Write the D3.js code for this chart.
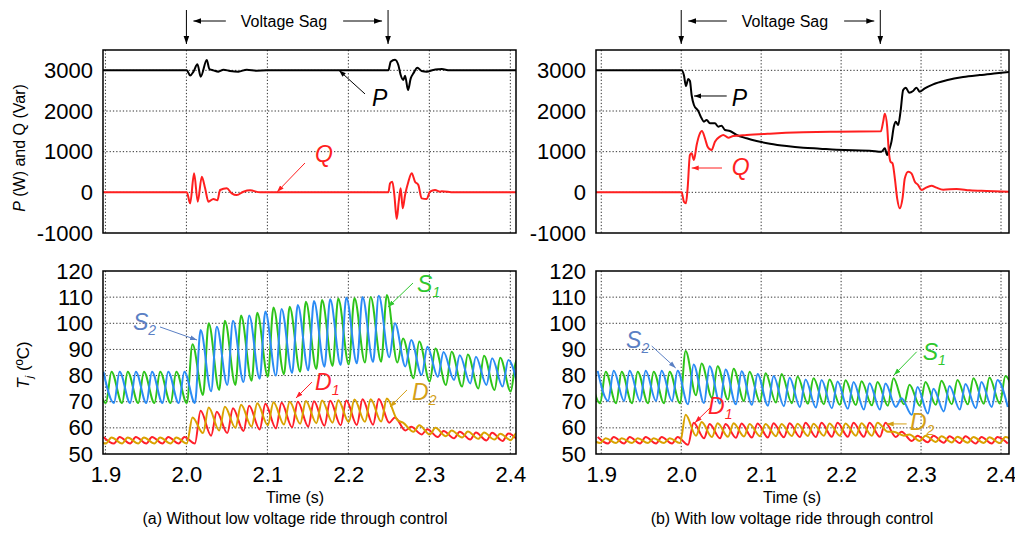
<!DOCTYPE html>
<html>
<head>
<meta charset="utf-8">
<script src="https://cdn.jsdelivr.net/npm/d3@7"></script>
<style>
  body { margin: 0; background: #fff; }
  svg { display: block; font-family: "Liberation Sans", Arial, sans-serif; }
</style>
</head>
<body>
<svg id="chart" width="1015" height="535"></svg>
<script>
// ---- axis ticks ----
const timeTicks = [1.9, 2.0, 2.1, 2.2, 2.3, 2.4];
const powerTicks = [-1000, 0, 1000, 2000, 3000];
const tempTicks = [50, 60, 70, 80, 90, 100, 110, 120];
const sagStart = 2.0;
const sagEnd = 2.249;

// ---- P / Q curves, [time s, value] ----
const leftP = [[1.897,3000],[2.0005,3000],[2.0046,2870],[2.0087,2967],[2.0136,3148],[2.0177,2844],[2.0251,3254],[2.0284,3033],[2.0333,3000],[2.0395,2967],[2.0457,3016],[2.0539,2984],[2.0642,2967],[2.0745,3016],[2.0868,2992],[2.0992,3000],[2.2494,3000],[2.2523,3213],[2.2576,3262],[2.2617,3131],[2.2646,2885],[2.2679,2762],[2.27,2869],[2.2737,2516],[2.277,2803],[2.2803,2926],[2.2852,3066],[2.2905,2984],[2.2967,2967],[2.3049,3008],[2.3111,3025],[2.3153,3033],[2.325,3000],[2.407,3000]];
const leftQ = [[1.897,0],[2.0005,0],[2.0046,-270],[2.0095,467],[2.014,-230],[2.019,385],[2.0231,98],[2.0272,-230],[2.0333,-164],[2.0383,-197],[2.0416,57],[2.0498,98],[2.056,-25],[2.0622,-66],[2.0704,16],[2.0786,49],[2.091,0],[2.2494,0],[2.2515,221],[2.2543,262],[2.2568,-66],[2.2597,-656],[2.2622,-230],[2.2646,98],[2.2671,-393],[2.27,-66],[2.2741,262],[2.2782,467],[2.2823,262],[2.2864,180],[2.2905,-148],[2.2967,-164],[2.3008,16],[2.307,57],[2.3132,16],[2.3153,25],[2.33,0],[2.407,0]];
const rightP = [[1.8934,3000],[2.0005,3000],[2.0034,2877],[2.0059,2615],[2.0088,2787],[2.0109,2738],[2.013,2393],[2.0159,2148],[2.0213,2000],[2.0255,1820],[2.0284,1738],[2.0318,1779],[2.0359,1697],[2.0422,1697],[2.0463,1615],[2.0505,1639],[2.0547,1533],[2.0609,1508],[2.0693,1410],[2.0818,1328],[2.0943,1262],[2.1109,1197],[2.1318,1139],[2.1526,1098],[2.1734,1074],[2.1943,1049],[2.2151,1033],[2.2359,1025],[2.2505,1000],[2.2547,1082],[2.2576,918],[2.2601,1041],[2.263,1246],[2.2659,1615],[2.2684,1738],[2.2713,1656],[2.2743,1984],[2.2776,2516],[2.2809,2574],[2.2851,2451],[2.2901,2492],[2.2943,2574],[2.2984,2475],[2.3047,2557],[2.3151,2656],[2.3318,2754],[2.3526,2836],[2.3734,2885],[2.3943,2926],[2.411,2959]];
const rightQ = [[1.8934,0],[2.0005,0],[2.0034,-230],[2.0059,-270],[2.008,98],[2.0109,918],[2.013,959],[2.0159,795],[2.0193,1164],[2.0226,1410],[2.0259,1508],[2.0297,1328],[2.033,1123],[2.038,1041],[2.0422,1246],[2.0484,1369],[2.0526,1410],[2.0589,1344],[2.0651,1385],[2.0714,1393],[2.0818,1410],[2.1109,1443],[2.1526,1475],[2.1943,1492],[2.2497,1500],[2.2526,1738],[2.2547,1934],[2.2576,1615],[2.2597,1000],[2.2618,754],[2.2643,713],[2.2672,344],[2.2701,-148],[2.2734,-393],[2.2768,-148],[2.2797,344],[2.2839,508],[2.288,467],[2.2922,262],[2.2964,180],[2.3005,57],[2.3047,98],[2.313,164],[2.3193,115],[2.3276,66],[2.3443,82],[2.3609,49],[2.3818,33],[2.411,16]];

// ---- junction temperature ripple: one peak and the following trough per 20 ms cycle ----
const ripplePeriod = 0.02;
const rippleFall = 0.013;
// without LVRT
const leftS2Start = 1.8975;
const leftS2Peaks = [81.5,81.5,81.5,81.5,81.5,81.5,97.4,98.7,101,103,104.5,105.5,107,108.5,109.2,109.9,110.1,110.5,100,93.6,91,89,87.8,87.2,86.6,86];
const leftS2Troughs = [69.5,69.5,69.5,69.5,69.5,69.5,74,76.4,77.5,78.8,80,81,82,83.4,84,84.7,85.2,87,83.5,80.2,79.5,78.3,77,76.4,75.8,74.5];
const leftS1Start = 1.8875;
const leftS1Peaks = [81.5,81.5,81.5,81.5,81.5,81.5,92,100,101,103,104,106,106.3,108.2,108.9,109.5,109.7,110.1,110.8,94.2,93,90.4,89.1,88.1,87.6,86.8,86];
const leftS1Troughs = [69.5,69.5,69.5,69.5,69.5,69.5,72.6,74.5,76.4,78,79.6,80.5,81.5,82.5,83.7,84.3,85,85.3,85,79,77.7,76.4,75.8,75.1,74.5,73.9,73.5];
const leftD1Start = 1.8975;
const leftD1Peaks = [56.5,56.5,56.5,56.5,56.5,56.5,66.5,66.2,67.5,68.5,69.2,69.6,70,70.2,70.4,70.5,70.9,71,64,60.4,59.5,58.8,58.5,58.2,58.1,57.8];
const leftD1Troughs = [54,54,54,54,54,54,57,58,58.8,59.4,59.8,60.2,60.5,60.8,61,61.1,61.2,62,59,57.5,56.5,56,55.5,55.2,55,54.8];
const leftD2Start = 1.8875;
const leftD2Peaks = [56.3,56.3,56.3,56.3,56.3,56.3,64,67.8,68.1,68.8,69.4,69.8,70,70.3,70.5,70.6,70.8,70.9,71.2,62,61,60,59,58.6,58.2,57.7,58];
const leftD2Troughs = [54,54,54,54,54,54,58,59,60,60.5,61,61.3,61.6,61.8,62,62.2,62.3,62.4,63,58.5,57.5,56.8,56.3,55.8,55.5,55.3,55.2];
// with LVRT
const rightS2Start = 1.8955;
const rightS2Peaks = [81.8,81.8,81.8,81.8,81.8,81.8,84.2,83.6,82.3,81.7,80.6,79.8,79.2,78.5,78.3,77.7,77.5,77.1,77,71.3,75.6,75,76,76.8,77.5,78.3];
const rightS2Troughs = [70.3,70.3,70.3,70.3,70.3,69,69.5,69.3,69,68.8,68.5,68.3,68,67.8,67.5,67.3,67,67,68,65,65.5,66.3,67,67.5,68,68];
const rightS1Start = 1.8855;
const rightS1Peaks = [81.5,81.5,81.5,81.5,81.5,81.5,89.4,84.6,83.6,82.6,81.5,80.9,80.6,79.6,79,78.5,78.2,77.8,77.5,79,76.5,77.5,78,78.3,79,79.3,79.8];
const rightS1Troughs = [69.4,69.4,69.4,69.4,69.4,69.4,72.5,71.5,70.8,70.3,70,69.7,69.4,69.2,69,68.8,68.7,68.6,68.5,69,68.5,68.8,69,69,69.2,69.3,69.3];
const rightD1Start = 1.8955;
const rightD1Peaks = [56.5,56.5,56.5,56.5,56.5,56.5,62,61.5,61.5,61.7,61.7,61.8,61.8,62,62,62,62,62,62,58.5,57,57,56.8,56.8,56.5,56.5];
const rightD1Troughs = [54,54,54,54,54,53.5,56,56,56.2,56.3,56.3,56.4,56.5,56.5,56.6,56.6,56.6,56.6,56.5,55,54.5,54.3,54.2,54,54,54];
const rightD2Start = 1.8855;
const rightD2Peaks = [56,56,56,56,56,56,65,62.2,61.8,61.8,61.5,61.5,61.5,61.6,61.6,61.7,61.7,61.8,62,58.5,57.5,57,56.8,56.6,56.5,56.4,56.5];
const rightD2Troughs = [54.2,54.2,54.2,54.2,54.2,54.2,57,56.5,56.6,56.7,56.8,56.8,56.9,56.9,57,57,57,57,58.5,57,55,54.6,54.4,54.3,54.2,54.2,54.2];

const colors = {
  P: "#000000", Q: "#ff1f1f",
  S1: "#2ec41a", S2: "#2b8cf5", D1: "#ff1f2a", D2: "#d9a300",
  S1label: "#2fc72f", S2label: "#5b80c4", D2label: "#d4a017"
};

const svg = d3.select("#chart");
const defs = svg.append("defs");

function addMarker(id, color, size) {
  defs.append("marker")
    .attr("id", id)
    .attr("viewBox", "0 0 10 10")
    .attr("refX", 10)
    .attr("refY", 5)
    .attr("markerUnits", "userSpaceOnUse")
    .attr("markerWidth", size)
    .attr("markerHeight", size)
    .attr("orient", "auto")
    .append("path")
    .attr("d", "M0,1.5L10,5L0,8.5Z")
    .attr("fill", color);
}
addMarker("m-black", "#000", 8);
addMarker("m-P", colors.P, 7);
addMarker("m-Q", colors.Q, 7);
addMarker("m-S1", colors.S1label, 7);
addMarker("m-S2", colors.S2label, 7);
addMarker("m-D1", colors.D1, 7);
addMarker("m-D2", colors.D2label, 7);

function ripple(t0, peaks, troughs) {
  return peaks.flatMap((p, i) => [
    [t0 + i * ripplePeriod, p],
    [t0 + i * ripplePeriod + rippleFall, troughs[i]]
  ]);
}

function arrow(g, x1, y1, x2, y2, color, marker) {
  g.append("line")
    .attr("x1", x1).attr("y1", y1).attr("x2", x2).attr("y2", y2)
    .attr("stroke", color).attr("stroke-width", 1)
    .attr("marker-end", `url(#${marker})`);
}

// label with italic letter and optional subscript
function symbolLabel(g, x, y, letter, sub, color) {
  const t = g.append("text")
    .attr("x", x).attr("y", y)
    .attr("fill", color)
    .attr("font-size", 23)
    .attr("font-style", "italic");
  t.append("tspan").text(letter);
  if (sub) {
    t.append("tspan").attr("font-size", 14).attr("dy", 5).text(sub);
  }
}

function drawPanel(cfg) {
  const x = d3.scaleLinear().domain(cfg.tDomain).range(cfg.xRange);

  // ---------- top: P and Q ----------
  const yPQ = d3.scaleLinear().domain([-1000, 3500]).range([233, 50]);
  const yT = d3.scaleLinear().domain([50, 120]).range([454, 271]);

  [
    { y: yPQ, ticks: powerTicks, fmt: d => String(d), key: "pq" },
    { y: yT, ticks: tempTicks, fmt: d => String(d), key: "tj" }
  ].forEach(p => {
    const g = svg.append("g");
    const [y0, y1] = p.y.range();
    // grid
    g.append("g").selectAll("line.vx")
      .data(timeTicks).join("line")
      .attr("x1", d => x(d)).attr("x2", d => x(d))
      .attr("y1", y1).attr("y2", y0)
      .attr("stroke", "#333").attr("stroke-width", 1)
      .attr("stroke-dasharray", "1.3,2");
    g.append("g").selectAll("line.hy")
      .data(p.ticks.filter(v => p.y(v) > y1 + 1 && p.y(v) < y0 - 1)).join("line")
      .attr("x1", cfg.xRange[0]).attr("x2", cfg.xRange[1])
      .attr("y1", d => p.y(d)).attr("y2", d => p.y(d))
      .attr("stroke", "#333").attr("stroke-width", 1)
      .attr("stroke-dasharray", "1.3,2");
    // y axis labels
    const ax = g.append("g")
      .attr("transform", `translate(${cfg.xRange[0]},0)`)
      .call(d3.axisLeft(p.y).tickValues(p.ticks).tickFormat(p.fmt).tickSize(0).tickPadding(10));
    ax.select(".domain").remove();
    ax.selectAll("text")
      .attr("font-family", "'Liberation Sans', Arial, sans-serif")
      .attr("font-size", 22)
      .attr("fill", "#000");

    // clip
    defs.append("clipPath").attr("id", `clip-${cfg.id}-${p.key}`)
      .append("rect")
      .attr("x", cfg.xRange[0]).attr("y", y1)
      .attr("width", cfg.xRange[1] - cfg.xRange[0]).attr("height", y0 - y1);
    p.plot = g.append("g").attr("clip-path", `url(#clip-${cfg.id}-${p.key})`);
    p.frame = g;
  });

  const line = (y) => d3.line()
    .x(d => x(d[0])).y(d => y(d[1]))
    .curve(d3.curveMonotoneX);

  const topPlot = svg.append("g").attr("clip-path", `url(#clip-${cfg.id}-pq)`);
  topPlot.append("path").datum(cfg.P)
    .attr("fill", "none").attr("stroke", colors.P).attr("stroke-width", 2)
    .attr("d", line(yPQ));
  topPlot.append("path").datum(cfg.Q)
    .attr("fill", "none").attr("stroke", colors.Q).attr("stroke-width", 2)
    .attr("d", line(yPQ));

  const botPlot = svg.append("g").attr("clip-path", `url(#clip-${cfg.id}-tj)`);
  cfg.ripples.forEach(r => {
    botPlot.append("path").datum(ripple(r.start, r.peaks, r.troughs))
      .attr("fill", "none").attr("stroke", colors[r.key]).attr("stroke-width", 2)
      .attr("stroke-linejoin", "round")
      .attr("d", line(yT));
  });

  // frames
  [yPQ, yT].forEach(y => {
    const [y0, y1] = y.range();
    svg.append("rect")
      .attr("x", cfg.xRange[0]).attr("y", y1)
      .attr("width", cfg.xRange[1] - cfg.xRange[0]).attr("height", y0 - y1)
      .attr("fill", "none").attr("stroke", "#000").attr("stroke-width", 1.5);
  });

  // x tick labels under bottom plot
  const xa = svg.append("g")
    .attr("transform", "translate(0,454)")
    .call(d3.axisBottom(x).tickValues(timeTicks).tickFormat(d3.format(".1f")).tickSize(0).tickPadding(12));
  xa.select(".domain").remove();
  xa.selectAll("text")
    .attr("font-family", "'Liberation Sans', Arial, sans-serif")
    .attr("font-size", 22)
    .attr("fill", "#000");

  // annotations
  const an = svg.append("g");
  cfg.notes.forEach(n => {
    const y = n.top ? yPQ : yT;
    arrow(an, x(n.from[0]), y(n.from[1]), x(n.to[0]), y(n.to[1]), n.color, n.marker);
    symbolLabel(an, x(n.text[0]), y(n.text[1]), n.letter, n.sub, n.color);
  });

  // voltage sag marker
  const sg = svg.append("g");
  const xs = x(sagStart), xe = x(sagEnd);
  arrow(sg, xs, 10, xs, 44, "#000", "m-black");
  arrow(sg, xe, 10, xe, 44, "#000", "m-black");
  const sagText = sg.append("text")
    .attr("x", x(cfg.sagTextT)).attr("y", 27)
    .attr("text-anchor", "middle")
    .attr("font-size", 16)
    .text("Voltage Sag");
  const w = sagText.node().getComputedTextLength();
  arrow(sg, x(cfg.sagTextT) - w / 2 - 15, 21, xs + 7, 21, "#000", "m-black");
  arrow(sg, x(cfg.sagTextT) + w / 2 + 16, 21, xe - 6, 21, "#000", "m-black");

  // axis title and caption
  svg.append("text")
    .attr("x", x(cfg.captionT)).attr("y", 503)
    .attr("text-anchor", "middle").attr("font-size", 16)
    .text("Time (s)");
  svg.append("text")
    .attr("x", x(cfg.captionT)).attr("y", 524)
    .attr("text-anchor", "middle").attr("font-size", 16)
    .text(cfg.caption);
}

drawPanel({
  id: "a",
  tDomain: [1.897, 2.407],
  xRange: [103, 516],
  P: leftP, Q: leftQ,
  ripples: [
    { key: "S1", start: leftS1Start, peaks: leftS1Peaks, troughs: leftS1Troughs },
    { key: "S2", start: leftS2Start, peaks: leftS2Peaks, troughs: leftS2Troughs },
    { key: "D1", start: leftD1Start, peaks: leftD1Peaks, troughs: leftD1Troughs },
    { key: "D2", start: leftD2Start, peaks: leftD2Peaks, troughs: leftD2Troughs }
  ],
  notes: [
    { top: true, letter: "P", sub: "", color: colors.P, marker: "m-P", text: [2.2292, 2123], from: [2.2205, 2420], to: [2.1884, 3000] },
    { top: true, letter: "Q", sub: "", color: colors.Q, marker: "m-Q", text: [2.1588, 746], from: [2.1464, 721], to: [2.1119, 10] },
    { letter: "S", sub: "2", color: colors.S2label, marker: "m-S2", text: [1.934, 97.4], from: [1.9674, 98.6], to: [2.0131, 93.6] },
    { letter: "S", sub: "1", color: colors.S1label, marker: "m-S1", text: [2.2848, 112], from: [2.2798, 115.4], to: [2.2489, 106.2] },
    { letter: "D", sub: "1", color: colors.D1, marker: "m-D1", text: [2.1588, 74.5], from: [2.155, 77.5], to: [2.1353, 71.4] },
    { letter: "D", sub: "2", color: colors.D2label, marker: "m-D2", text: [2.2786, 70.7], from: [2.2724, 74.5], to: [2.2514, 68] }
  ],
  sagTextT: 2.1205,
  captionT: 2.1341,
  caption: "(a) Without low voltage ride through control"
});

drawPanel({
  id: "b",
  tDomain: [1.8934, 2.41],
  xRange: [596, 1009],
  P: rightP, Q: rightQ,
  ripples: [
    { key: "S1", start: rightS1Start, peaks: rightS1Peaks, troughs: rightS1Troughs },
    { key: "S2", start: rightS2Start, peaks: rightS2Peaks, troughs: rightS2Troughs },
    { key: "D1", start: rightD1Start, peaks: rightD1Peaks, troughs: rightD1Troughs },
    { key: "D2", start: rightD2Start, peaks: rightD2Peaks, troughs: rightD2Troughs }
  ],
  notes: [
    { top: true, letter: "P", sub: "", color: colors.P, marker: "m-P", text: [2.0631, 2123], from: [2.0569, 2369], to: [2.016, 2369] },
    { top: true, letter: "Q", sub: "", color: colors.Q, marker: "m-Q", text: [2.0631, 426], from: [2.051, 598], to: [2.0131, 598] },
    { letter: "S", sub: "2", color: colors.S2label, marker: "m-S2", text: [1.931, 90.6], from: [1.9631, 91.3], to: [1.9931, 82.9] },
    { letter: "S", sub: "1", color: colors.S1label, marker: "m-S1", text: [2.302, 86], from: [2.2945, 89.1], to: [2.2661, 80.2] },
    { letter: "D", sub: "1", color: colors.D1, marker: "m-D1", text: [2.0335, 65.3], from: [2.036, 67.6], to: [2.0172, 62] },
    { letter: "D", sub: "2", color: colors.D2label, marker: "m-D2", text: [2.2861, 59.2], from: [2.282, 61.5], to: [2.257, 61.5] }
  ],
  sagTextT: 2.1298,
  captionT: 2.1386,
  caption: "(b) With low voltage ride through control"
});

// y axis titles (left panels only)
const yt1 = svg.append("text")
  .attr("transform", "translate(25,148) rotate(-90)")
  .attr("text-anchor", "middle").attr("font-size", 16);
yt1.append("tspan").attr("font-style", "italic").text("P");
yt1.append("tspan").text(" (W) and Q (Var)");

const yt2 = svg.append("text")
  .attr("transform", "translate(29,365) rotate(-90)")
  .attr("text-anchor", "middle").attr("font-size", 17);
yt2.append("tspan").attr("font-style", "italic").text("T");
yt2.append("tspan").attr("font-style", "italic").attr("font-size", 11).attr("dy", 4).text("j");
yt2.append("tspan").attr("dy", -4).text(" (ºC)");
</script>
</body>
</html>
